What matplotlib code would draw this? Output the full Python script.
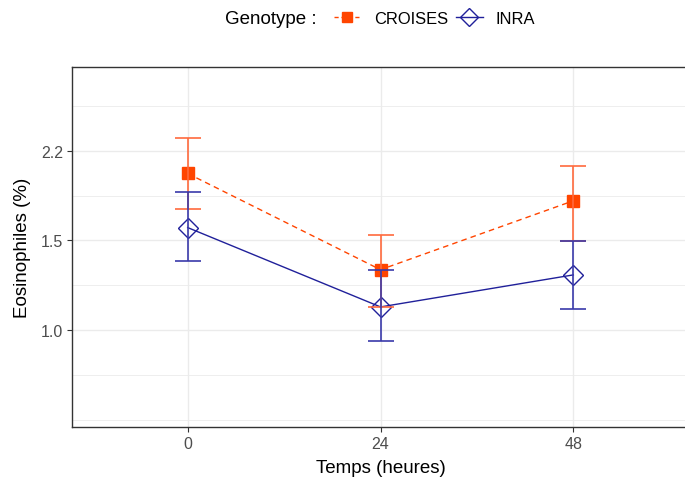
import numpy as np
import matplotlib
matplotlib.use("Agg")
import matplotlib.pyplot as plt
from matplotlib.lines import Line2D

plt.rcParams['font.family'] = ['Liberation Sans', 'DejaVu Sans']

times = ["0", "24", "48"]
croises_mean = [2.01, 1.31, 1.78]
croises_low = [1.72, 1.11, 1.49]
croises_high = [2.35, 1.53, 2.08]
inra_mean = [1.58, 1.11, 1.28]
inra_low = [1.36, 0.952, 1.10]
inra_high = [1.85, 1.31, 1.49]

major_ln = [0.0, 0.4, 0.8]
major_labels = ["1.0", "1.5", "2.2"]
minor_ln = [-0.4, -0.2, 0.2, 0.6, 1.0]

c_orange = "#FF4500"
c_orange_eb = "#FF6A3D"
c_blue = "#20209A"
c_blue_eb = "#3A3AAA"

fig = plt.figure(figsize=(6.85, 4.81), dpi=100)
ax = fig.add_axes([72/685, 1-428/481, 617/685, 360/481])

x = np.arange(len(times))
ax.set_yscale('log')

# lines
ax.plot(x, croises_mean, color=c_orange, lw=1.0, ls=(0, (4, 3)), zorder=3)
ax.plot(x, inra_mean, color=c_blue, lw=1.0, ls='-', zorder=3)
# points
ax.plot(x, croises_mean, ls='none', marker='s', ms=9, color=c_orange, mec=c_orange, zorder=4)
ax.plot(x, inra_mean, ls='none', marker='D', ms=10, mfc='none', mec=c_blue, mew=1.0, zorder=4)
# errorbars
cm = np.array(croises_mean); im = np.array(inra_mean)
ax.errorbar(x, cm, yerr=[cm - np.array(croises_low), np.array(croises_high) - cm],
            fmt='none', ecolor=c_orange_eb, elinewidth=1.2, capsize=9.5, capthick=1.2, zorder=5)
ax.errorbar(x, im, yerr=[im - np.array(inra_low), np.array(inra_high) - im],
            fmt='none', ecolor=c_blue_eb, elinewidth=1.2, capsize=9.5, capthick=1.2, zorder=6)

ax.set_xlim(-0.6, 2.6)
ax.set_ylim(np.exp(-0.43), np.exp(1.172))
ax.set_xticks(x)
ax.set_xticklabels(times)
ax.set_yticks(np.exp(major_ln))
ax.set_yticklabels(major_labels)
ax.set_yticks(np.exp(minor_ln), minor=True)
ax.yaxis.set_minor_formatter(matplotlib.ticker.NullFormatter())
ax.tick_params(axis='y', which='minor', length=0)
ax.tick_params(which='major', length=3.5, width=0.8, color='#333333',
               labelsize=11.5, labelcolor='#4D4D4D', pad=3)

ax.grid(True, which='major', color='#EBEBEB', lw=1.0)
ax.grid(True, which='minor', axis='y', color='#EBEBEB', lw=0.6)
ax.set_axisbelow(True)
for s in ax.spines.values():
    s.set_color('#333333')
    s.set_linewidth(1.0)

ax.set_xlabel("Temps (heures)", fontsize=13.5, labelpad=6)
ax.set_ylabel("Eosinophiles (%)", fontsize=13.5, labelpad=7)

# legend
fig.text(225/685, 1-19/481, "Genotype :", fontsize=13.5, va='center', ha='left')
h1 = Line2D([], [], color=c_orange, ls=(0, (3, 2)), lw=1.0, marker='s', ms=7.5, mfc=c_orange, mec=c_orange)
h2 = Line2D([], [], color=c_blue, ls='-', lw=1.0, marker='D', ms=9, mfc='none', mec=c_blue)
fig.legend([h1, h2], ["CROISES", "INRA"], loc='center left', bbox_to_anchor=(334/685, 1-19/481),
           ncol=2, frameon=False, fontsize=11.9, handlelength=1.6, handletextpad=0.8,
           columnspacing=0.5, borderpad=0, borderaxespad=0)

fig.savefig("out.png", dpi=100)
